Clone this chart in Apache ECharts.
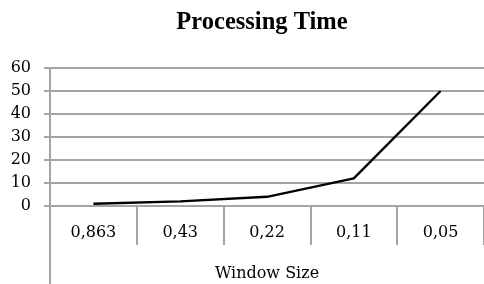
<!DOCTYPE html>
<html><head><meta charset="utf-8">
<script src="https://cdn.jsdelivr.net/npm/echarts@6/dist/echarts.min.js"></script>
<style>html,body{margin:0;padding:0;background:#fff}#c{width:484px;height:284px}</style>
</head><body><div id="c"></div>
<script>
const categories = ['0,863', '0,43', '0,22', '0,11', '0,05'];
const processingTime = [1, 2, 4, 12, 50];
const yTicks = { min: 0, max: 60, interval: 10 };
const titleText = 'Processing Time';
const xName = 'Window Size';

const chart = echarts.init(document.getElementById('c'));
const gridColor = '#a4a4a4';
chart.setOption({
  animation: false,
  title: {
    text: titleText, left: 257, top: 5, textAlign: 'center',
    textStyle: { fontFamily: 'Liberation Serif', fontWeight: 'bold', fontSize: 24.5, color: '#000' }
  },
  grid: { left: 50, right: -4, top: 68, bottom: 78, containLabel: false },
  xAxis: {
    type: 'category', data: categories, boundaryGap: true,
    name: xName, nameLocation: 'middle', nameGap: 60,
    nameTextStyle: { fontFamily: 'DejaVu Serif', fontSize: 16, color: '#000' },
    axisLine: { lineStyle: { color: gridColor, width: 2 } },
    axisTick: { show: true, length: 39, lineStyle: { color: gridColor, width: 2 } },
    axisLabel: { margin: 19, fontFamily: 'DejaVu Serif', fontSize: 16, color: '#000' }
  },
  yAxis: {
    type: 'value', min: yTicks.min, max: yTicks.max, interval: yTicks.interval,
    axisLine: { show: true, lineStyle: { color: gridColor, width: 2 } },
    axisTick: { show: true, length: 6, lineStyle: { color: gridColor, width: 2 } },
    splitLine: { lineStyle: { color: gridColor, width: 2 } },
    axisLabel: { margin: 19, fontFamily: 'DejaVu Serif', fontSize: 16, color: '#000' }
  },
  graphic: [{
    type: 'line', shape: { x1: 50, y1: 206, x2: 50, y2: 284 },
    style: { stroke: gridColor, lineWidth: 2 }, silent: true
  }],
  series: [{
    type: 'line', data: processingTime, symbol: 'none',
    lineStyle: { color: '#000', width: 2.4 }
  }]
});
</script></body></html>
